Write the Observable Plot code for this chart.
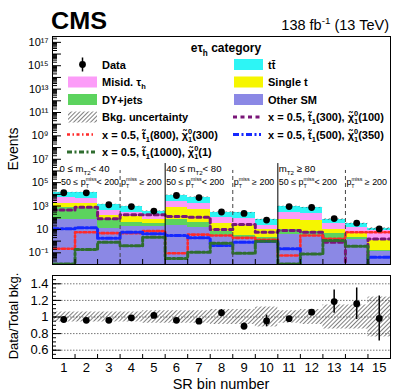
<!DOCTYPE html>
<html>
<head>
<meta charset="utf-8">
<script src="https://cdn.jsdelivr.net/npm/d3@7"></script>
<script src="https://cdn.jsdelivr.net/npm/@observablehq/plot@0.6"></script>
<style>
html,body{margin:0;padding:0;background:#fff;}
#wrap{position:relative;width:411px;height:392px;overflow:hidden;font-family:"Liberation Sans",Arial,Helvetica,sans-serif;}
#wrap svg{position:absolute;left:0;}
</style>
</head>
<body>
<div id="wrap"></div>
<script>
// ---------------- data ----------------
const bins = [1,2,3,4,5,6,7,8,9,10,11,12,13,14,15];
const binEdges = [0.5,1.5,2.5,3.5,4.5,5.5,6.5,7.5,8.5,9.5,10.5,11.5,12.5,13.5,14.5,15.5];
// background processes (events per bin)
const otherSM  = [66, 66, 12.6, 17.8, 17.8, 21.4, 15.5, 2.45, 2.14, 0.66, 3.63, 2.45, 1.29, 1.29, 0.138];
const dyJets   = [728, 509, 53.5, 23.9, 16.1, 44.7, 26.2, 4.63, 0.88, 1.48, 5.49, 4.63, 2.88, 0.85, 0.02];
const singleT  = [944, 974, 89, 84, 32.2, 642, 426, 23.1, 18.4, 6.98, 57, 50.4, 4.95, 2.03, 0.96];
const misidTau = [3274, 2620, 262, 169, 112, 1862, 1270, 82, 58, 12.3, 229, 188, 24.8, 9.6, 7.01];
const ttbar    = [9113, 9956, 932, 617, 185, 5748, 3885, 183, 184, 44.7, 617, 463, 36.9, 16.4, 3.07];
// observed data
const dataObs  = [13700, 13560, 1295, 903, 370, 7985, 5342, 310, 234, 63, 894, 750, 84, 35, 11];
// uncertainty on data/bkg ratio and relative bkg uncertainty
const ratioErr = [0.015, 0.012, 0.015, 0.02, 0.035, 0.012, 0.012, 0.04, 0.04, 0.07, 0.02, 0.025, 0.14, 0.19, 0.27];
const bkgUnc   = [0.06, 0.06, 0.06, 0.06, 0.075, 0.075, 0.075, 0.09, 0.09, 0.12, 0.075, 0.09, 0.145, 0.145, 0.24];
// signal models
const sigT300N100  = [468, 794, 81, 178, 178, 126, 112, 9.8, 26, 5.8, 8.1, 5.8, 0.81, 0.005, 1.55];
const sigT800N300  = [0.22, 5.8, 4.8, 4.8, 7.1, 0.093, 3.6, 3.0, 1.9, 1.3, 0.059, 3.0, 1.6, 5.8, 5.8];
const sigT500N350  = [11.2, 13.8, 1.8, 5.8, 4.2, 3.0, 1.9, 0.42, 0.81, 0.95, 0.22, 0.005, 0.005, 0.005, 0.042];
const sigT1000N1   = [0.011, 0.19, 0.81, 0.40, 2.1, 0.032, 0.11, 0.66, 0.093, 0.98, 0.011, 0.081, 1.12, 0.36, 0.005];
// region structure
const regionEdges = [5.5, 10.5];
const metEdges = [3.5, 8.5, 13.5];
const yLabelTicks = [1e-1, 1e1, 1e3, 1e5, 1e7, 1e9, 1e11, 1e13, 1e15, 1e17];
const ratioTicks = [0.6, 0.8, 1, 1.2, 1.4];

// ---------------- styling ----------------
const FONT = "Liberation Sans, Arial, Helvetica, sans-serif";
const procs = [
  {name: "Other SM", vals: otherSM, color: "#8b88e5"},
  {name: "DY+jets", vals: dyJets, color: "#5cd35e"},
  {name: "Single t", vals: singleT, color: "#f6f600"},
  {name: "Misid", vals: misidTau, color: "#fc9cf8"},
  {name: "ttbar", vals: ttbar, color: "#2df5f5"}
];
const sigs = [
  {vals: sigT300N100, color: "#7a1678", dash: "4,3.5", w: 3},
  {vals: sigT800N300, color: "#ff2a2a", dash: "3,2.5,1.5,2.5", w: 2.6},
  {vals: sigT500N350, color: "#1428ff", dash: "6,2.5,2,2.5", w: 3},
  {vals: sigT1000N1, color: "#2f6d2f", dash: "5,2.5,2,2.5", w: 3}
];
function hatchPattern(id) {
  return `<pattern id="${id}" patternUnits="userSpaceOnUse" width="3" height="3" patternTransform="rotate(45)"><line x1="0" y1="0" x2="0" y2="3" stroke="#333" stroke-width="1.25"/></pattern>`;
}
function addDefs(svg, id) {
  const defs = document.createElementNS("http://www.w3.org/2000/svg", "defs");
  defs.innerHTML = hatchPattern(id);
  svg.insertBefore(defs, svg.firstChild);
}
const supMap = {"0":"⁰","1":"¹","2":"²","3":"³","4":"⁴","5":"⁵","6":"⁶","7":"⁷","8":"⁸","9":"⁹","-":"⁻"};
const powFmt = d => { const e = Math.round(Math.log10(d)); return e === 1 ? "10" : "10" + String(e).split("").map(c => supMap[c]).join(""); };

// ---------------- main panel ----------------
const ymin = 1e-2, ymax = Math.pow(10, 17.5);
const majorY = d3.range(-2, 18).map(e => Math.pow(10, e));
const minorY = [];
for (let e = -2; e <= 17; e++) for (let k = 2; k <= 9; k++) { const v = k * Math.pow(10, e); if (v < ymax) minorY.push(v); }

const cum = bins.map(() => 0);
const stackMarks = procs.map(p => {
  const rows = bins.map((b, i) => { const lo = cum[i]; cum[i] += p.vals[i]; return {bin: b, lo: lo > 0 ? lo : 1e-4, hi: cum[i]}; });
  return Plot.rect(rows, {x1: d => d.bin - 0.5, x2: d => d.bin + 0.5, y1: "lo", y2: "hi", fill: p.color, clip: true, shapeRendering: "crispEdges"});
});
const total = cum.slice();
const ratioVals = bins.map((b, i) => dataObs[i] / total[i]);
const stepPts = vals => bins.map((b, i) => ({x: b - 0.5, y: vals[i]})).concat([{x: 15.5, y: vals[vals.length - 1]}]);

const main = Plot.plot({
  width: 411, height: 268, marginLeft: 52, marginRight: 21, marginTop: 36, marginBottom: 4,
  style: {fontFamily: FONT, fontSize: "11px", color: "black", background: "transparent", overflow: "visible"},
  x: {domain: [0.5, 15.5]},
  y: {type: "log", domain: [ymin, ymax]},
  marks: [
    ...stackMarks,
    Plot.rect(bins, {x1: d => d - 0.5, x2: d => d + 0.5, y1: (d, i) => total[i] * (1 - bkgUnc[i]), y2: (d, i) => total[i] * (1 + bkgUnc[i]), fill: "url(#hatchM)"}),
    ...sigs.map(s => Plot.line(stepPts(s.vals), {x: "x", y: "y", curve: "step-after", stroke: s.color, strokeWidth: s.w, strokeDasharray: s.dash, clip: true})),
    Plot.ruleX(regionEdges, {x: d => d, y1: ymin, y2: 4.3e6, stroke: "black", strokeWidth: 1}),
    Plot.ruleX(metEdges, {x: d => d, y1: ymin, y2: 1.1e6, stroke: "#444", strokeWidth: 1, strokeDasharray: "4,3"}),
    Plot.ruleX(bins, {x: d => d, y1: (d, i) => dataObs[i] - ratioErr[i] * total[i], y2: (d, i) => dataObs[i] + ratioErr[i] * total[i], stroke: "black", strokeWidth: 1.5}),
    Plot.dot(bins, {x: d => d, y: (d, i) => dataObs[i], r: 3.4, fill: "black", stroke: null}),
    Plot.axisY({ticks: majorY, tickSize: -9, tickFormat: () => "", label: null}),
    Plot.axisY({ticks: minorY, tickSize: -5, tickFormat: () => "", label: null}),
    Plot.axisY({ticks: yLabelTicks, tickSize: 0, tickPadding: 4, tickFormat: powFmt, fontSize: 11, label: null}),
    Plot.axisX({ticks: binEdges.slice(1, -1), tickSize: -5, tickFormat: () => "", label: null}),
    Plot.frame({stroke: "black"})
  ]
});
addDefs(main, "hatchM");
main.style.top = "0px";
document.getElementById("wrap").appendChild(main);

// ---------------- ratio panel ----------------
const ratioMinor = d3.range(10, 31).map(k => k * 0.05);
const ratio = Plot.plot({
  width: 411, height: 122, marginLeft: 52, marginRight: 21, marginTop: 5, marginBottom: 34,
  style: {fontFamily: FONT, fontSize: "13px", color: "black", background: "transparent", overflow: "visible"},
  x: {domain: [0.5, 15.5]},
  y: {domain: [0.5, 1.5]},
  marks: [
    Plot.ruleY(ratioTicks, {stroke: "#777", strokeDasharray: "1.5,1.5"}),
    Plot.rect(bins, {x1: d => d - 0.5, x2: d => d + 0.5, y1: (d, i) => 1 - bkgUnc[i], y2: (d, i) => 1 + bkgUnc[i], fill: "url(#hatchR)"}),
    Plot.ruleX(bins, {x: d => d, y1: (d, i) => ratioVals[i] - ratioErr[i], y2: (d, i) => ratioVals[i] + ratioErr[i], stroke: "black", strokeWidth: 1.5}),
    Plot.dot(bins, {x: d => d, y: (d, i) => ratioVals[i], r: 3.4, fill: "black", stroke: null}),
    Plot.axisY({ticks: ratioTicks, tickSize: -9, tickFormat: () => "", label: null}),
    Plot.axisY({ticks: ratioMinor, tickSize: -4, tickFormat: () => "", label: null}),
    Plot.axisY({ticks: ratioTicks, tickSize: 0, tickPadding: 4, tickFormat: d => d === 1 ? "1" : d.toFixed(1), fontSize: 13, label: null}),
    Plot.axisX({ticks: binEdges.slice(1, -1), tickSize: -4, tickFormat: () => "", label: null}),
    Plot.axisX({ticks: bins, tickSize: 0, tickPadding: 4, tickFormat: d => String(d), fontSize: 13, label: null}),
    Plot.frame({stroke: "black"})
  ]
});
addDefs(ratio, "hatchR");
ratio.style.top = "270px";
document.getElementById("wrap").appendChild(ratio);

// ---------------- annotations ----------------
const ov = d3.select("#wrap").append("svg")
  .attr("width", 411).attr("height", 392)
  .style("top", "0px").style("font-family", FONT).style("pointer-events", "none");
ov.append("defs").html(hatchPattern("hatchL"));

function rich(parent, x, y, segs, size, weight, anchor, smallK) {
  const t = parent.append("text").attr("x", x).attr("y", y)
    .attr("font-size", size).attr("font-weight", weight || "normal")
    .attr("text-anchor", anchor || "start").attr("fill", "black");
  const small = size * (smallK || 0.68);
  let cur = 0;
  segs.forEach(s => {
    const seg = typeof s === "string" ? {t: s} : s;
    const target = seg.s === "sup" ? -0.42 * size : seg.s === "sub" ? 0.3 * size : 0;
    const ts = t.append("tspan").text(seg.t).attr("dy", (target - cur).toFixed(2));
    if (seg.s) ts.attr("font-size", small.toFixed(2));
    if (seg.back) ts.attr("dx", (-seg.back * small).toFixed(2));
    cur = target;
  });
  return t;
}

// header
ov.append("text").attr("x", 51).attr("y", 29).attr("font-size", 23).attr("font-weight", "bold")
  .attr("textLength", 56).attr("lengthAdjust", "spacingAndGlyphs").text("CMS");
rich(ov, 389, 30, ["138 fb", {t: "-1", s: "sup"}, " (13 TeV)"], 14.5, "normal", "end");

// category title
rich(ov, 226, 52, ["e\u03C4", {t: "h", s: "sub"}, " category"], 12, "bold", "middle");

// legend
const rowsY = [68.5, 86, 103.5, 121, 138.5, 156];
const swL = 68, swR = 234, swW = 29, txL = 102, txR = 268;
function box(x, yb, fill) { ov.append("rect").attr("x", x).attr("y", yb - 9.5).attr("width", swW).attr("height", 11).attr("fill", fill); }
function lineSw(x, yb, s) { ov.append("line").attr("x1", x - 1).attr("x2", x + swW - 2).attr("y1", yb - 4).attr("y2", yb - 4).attr("stroke", s.color).attr("stroke-width", s.w).attr("stroke-dasharray", s.dash); }
const sigLabel = (st, ch) => ["x = 0.5, t\u0303", {t: "1", s: "sub"}, "(" + st + "), \u03C7\u0303", {t: "0", s: "sup"}, {t: "1", s: "sub", back: 0.556}, "(" + ch + ")"];

// Data
ov.append("line").attr("x1", swL + 14.5).attr("x2", swL + 14.5).attr("y1", rowsY[0] - 11).attr("y2", rowsY[0] + 3).attr("stroke", "black").attr("stroke-width", 1.5);
ov.append("circle").attr("cx", swL + 14.5).attr("cy", rowsY[0] - 4).attr("r", 3.4).attr("fill", "black");
rich(ov, txL, rowsY[0], ["Data"], 11, "bold");
box(swL, rowsY[1], procs[3].color); rich(ov, txL, rowsY[1], ["Misid. \u03C4", {t: "h", s: "sub"}], 11, "bold");
box(swL, rowsY[2], procs[1].color); rich(ov, txL, rowsY[2], ["DY+jets"], 11, "bold");
box(swL, rowsY[3], "url(#hatchL)"); rich(ov, txL, rowsY[3], ["Bkg. uncertainty"], 11, "bold");
lineSw(swL, rowsY[4], sigs[1]); rich(ov, txL, rowsY[4], sigLabel("800", "300"), 11, "bold");
lineSw(swL, rowsY[5], sigs[3]); rich(ov, txL, rowsY[5], sigLabel("1000", "1"), 11, "bold");
box(swR, rowsY[0], procs[4].color); rich(ov, txR, rowsY[0], ["tt\u0304"], 11, "bold");
box(swR, rowsY[1], procs[2].color); rich(ov, txR, rowsY[1], ["Single t"], 11, "bold");
box(swR, rowsY[2], procs[0].color); rich(ov, txR, rowsY[2], ["Other SM"], 11, "bold");
lineSw(swR, rowsY[3], sigs[0]); rich(ov, txR, rowsY[3], sigLabel("300", "100"), 11, "bold");
lineSw(swR, rowsY[4], sigs[2]); rich(ov, txR, rowsY[4], sigLabel("500", "350"), 11, "bold");

// region labels
const sx = main.scale("x");
const ptSeg = [{t: "T", s: "sub"}, {t: "miss", s: "sup", back: 0.611}];
const mtLabels = [
  {edge: 0.5, dx: 7.5, segs: ["0 \u2264 m", {t: "T2", s: "sub"}, "< 40"]},
  {edge: 5.5, dx: 1.5, segs: ["40 \u2264 m", {t: "T2", s: "sub"}, "< 80"]},
  {edge: 10.5, dx: 1.5, segs: ["m", {t: "T2", s: "sub"}, " \u2265 80"]}
];
const metLabels = [
  {edge: 0.5, dx: 9, segs: ["50 \u2264 p", ...ptSeg, "< 200"]},
  {edge: 3.5, dx: 1.5, segs: ["p", ...ptSeg, " \u2265 200"]},
  {edge: 5.5, dx: 1.5, segs: ["50 \u2264 p", ...ptSeg, "< 200"]},
  {edge: 8.5, dx: 1.5, segs: ["p", ...ptSeg, " \u2265 200"]},
  {edge: 10.5, dx: 1.5, segs: ["50 \u2264 p", ...ptSeg, "< 200"]},
  {edge: 13.5, dx: 1.5, segs: ["p", ...ptSeg, " \u2265 200"]}
];
mtLabels.forEach(l => rich(ov, sx.apply(l.edge) + l.dx, 172, l.segs, 9.6, "normal", "start", 0.64));
metLabels.forEach(l => rich(ov, sx.apply(l.edge) + l.dx, 185, l.segs, 8.9, "normal", "start", 0.6));

// axis titles
ov.append("text").attr("transform", "translate(18,149) rotate(-90)").attr("text-anchor", "middle").attr("font-size", 14).text("Events");
ov.append("text").attr("transform", "translate(18,316) rotate(-90)").attr("text-anchor", "middle").attr("font-size", 13).text("Data/Total bkg.");
ov.append("text").attr("x", 221).attr("y", 389).attr("text-anchor", "middle").attr("font-size", 14.5).text("SR bin number");
</script>
</body>
</html>
